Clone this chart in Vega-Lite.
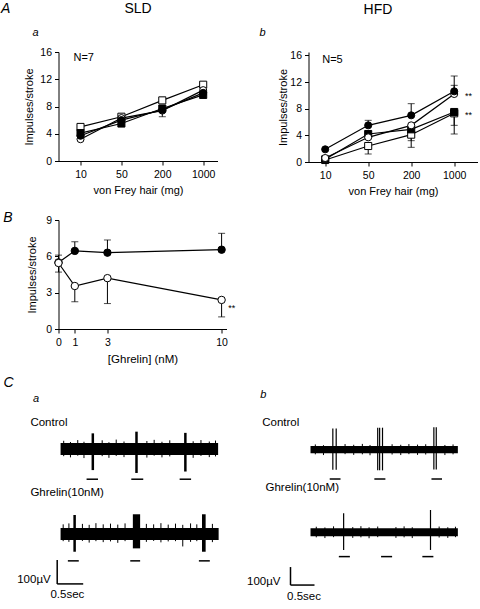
{
  "$schema": "https://vega.github.io/schema/vega-lite/v6.json",
  "padding": {"left": 0.5, "top": 2, "right": 0, "bottom": 0},
  "background": "white",
  "config": {
    "font": "Liberation Sans",
    "view": {"stroke": null},
    "axis": {"domainColor": "black", "tickColor": "black", "labelColor": "black", "titleColor": "black", "grid": false, "labelFont": "Liberation Sans", "titleFont": "Liberation Sans", "labelFontSize": 10.5, "titleFontSize": 11, "titleFontWeight": "normal", "tickSize": 4, "labelPadding": 3, "domainWidth": 1, "tickWidth": 1, "labelOverlap": false, "labelFlush": false},
    "text": {"font": "Liberation Sans", "fill": "black"}
  },
  "datasets": {
    "A": [
      {"diet": "SLD", "series": "open square", "mg": 10, "v": 5.0},
      {"diet": "SLD", "series": "open square", "mg": 50, "v": 6.5},
      {"diet": "SLD", "series": "open square", "mg": 200, "v": 8.9},
      {"diet": "SLD", "series": "open square", "mg": 1000, "v": 11.2},
      {"diet": "SLD", "series": "open circle", "mg": 10, "v": 3.2},
      {"diet": "SLD", "series": "open circle", "mg": 50, "v": 6.3},
      {"diet": "SLD", "series": "open circle", "mg": 200, "v": 7.4},
      {"diet": "SLD", "series": "open circle", "mg": 1000, "v": 10.4},
      {"diet": "SLD", "series": "closed circle", "mg": 10, "v": 3.7},
      {"diet": "SLD", "series": "closed circle", "mg": 50, "v": 6.0},
      {"diet": "SLD", "series": "closed circle", "mg": 200, "v": 7.5, "e": 6.5},
      {"diet": "SLD", "series": "closed circle", "mg": 1000, "v": 10.0},
      {"diet": "SLD", "series": "closed square", "mg": 10, "v": 4.1},
      {"diet": "SLD", "series": "closed square", "mg": 50, "v": 5.5},
      {"diet": "SLD", "series": "closed square", "mg": 200, "v": 7.7},
      {"diet": "SLD", "series": "closed square", "mg": 1000, "v": 9.7},
      {"diet": "HFD", "series": "open square", "mg": 10, "v": 0.3},
      {"diet": "HFD", "series": "open square", "mg": 50, "v": 2.4, "e": 1.2},
      {"diet": "HFD", "series": "open square", "mg": 200, "v": 4.1, "e": 2.2},
      {"diet": "HFD", "series": "open square", "mg": 1000, "v": 7.3, "e": 4.2},
      {"diet": "HFD", "series": "closed square", "mg": 10, "v": 0.4},
      {"diet": "HFD", "series": "closed square", "mg": 50, "v": 4.2},
      {"diet": "HFD", "series": "closed square", "mg": 200, "v": 4.9, "e": 3.2},
      {"diet": "HFD", "series": "closed square", "mg": 1000, "v": 7.5, "e": 5.5},
      {"diet": "HFD", "series": "open circle", "mg": 10, "v": 0.6},
      {"diet": "HFD", "series": "open circle", "mg": 50, "v": 3.7},
      {"diet": "HFD", "series": "open circle", "mg": 200, "v": 5.5},
      {"diet": "HFD", "series": "open circle", "mg": 1000, "v": 10.2, "e": 11.5},
      {"diet": "HFD", "series": "closed circle", "mg": 10, "v": 1.9},
      {"diet": "HFD", "series": "closed circle", "mg": 50, "v": 5.5, "e": 6.25},
      {"diet": "HFD", "series": "closed circle", "mg": 200, "v": 7.0, "e": 8.75},
      {"diet": "HFD", "series": "closed circle", "mg": 1000, "v": 10.6, "e": 12.9}
    ],
    "B": [
      {"series": "closed circle", "nM": 0, "v": 5.5, "e": 6.1},
      {"series": "closed circle", "nM": 1, "v": 6.45, "e": 7.2},
      {"series": "closed circle", "nM": 3, "v": 6.3, "e": 7.35},
      {"series": "closed circle", "nM": 10, "v": 6.55, "e": 7.9},
      {"series": "open circle", "nM": 0, "v": 5.45, "e": 4.7},
      {"series": "open circle", "nM": 1, "v": 3.55, "e": 2.25},
      {"series": "open circle", "nM": 3, "v": 4.2, "e": 2.1},
      {"series": "open circle", "nM": 10, "v": 2.4, "e": 1.0}
    ],
    "C": [
      {"panel": "a", "cond": "Control", "kind": "band", "t0": 0, "t1": 3.03, "lo": -25, "hi": 25},
      {"panel": "a", "cond": "Control", "kind": "spike", "t0": 0.62, "lo": -88, "hi": 65},
      {"panel": "a", "cond": "Control", "kind": "spike", "t0": 1.46, "lo": -100, "hi": 72},
      {"panel": "a", "cond": "Control", "kind": "spike", "t0": 2.40, "lo": -94, "hi": 67},
      {"panel": "a", "cond": "Control", "kind": "stim", "t0": 0.50, "t1": 0.72, "lo": -126},
      {"panel": "a", "cond": "Control", "kind": "stim", "t0": 1.36, "t1": 1.59, "lo": -126},
      {"panel": "a", "cond": "Control", "kind": "stim", "t0": 2.29, "t1": 2.51, "lo": -126},
      {"panel": "a", "cond": "Control", "kind": "noise", "t0": 0.06, "lo": -30, "hi": 34},
      {"panel": "a", "cond": "Control", "kind": "noise", "t0": 0.19, "lo": -35, "hi": 29},
      {"panel": "a", "cond": "Control", "kind": "noise", "t0": 0.33, "lo": -28, "hi": 37},
      {"panel": "a", "cond": "Control", "kind": "noise", "t0": 0.45, "lo": -38, "hi": 30},
      {"panel": "a", "cond": "Control", "kind": "noise", "t0": 0.80, "lo": -30, "hi": 36},
      {"panel": "a", "cond": "Control", "kind": "noise", "t0": 0.93, "lo": -37, "hi": 28},
      {"panel": "a", "cond": "Control", "kind": "noise", "t0": 1.07, "lo": -29, "hi": 39},
      {"panel": "a", "cond": "Control", "kind": "noise", "t0": 1.22, "lo": -34, "hi": 31},
      {"panel": "a", "cond": "Control", "kind": "noise", "t0": 1.66, "lo": -36, "hi": 33},
      {"panel": "a", "cond": "Control", "kind": "noise", "t0": 1.80, "lo": -28, "hi": 38},
      {"panel": "a", "cond": "Control", "kind": "noise", "t0": 1.95, "lo": -35, "hi": 30},
      {"panel": "a", "cond": "Control", "kind": "noise", "t0": 2.10, "lo": -31, "hi": 36},
      {"panel": "a", "cond": "Control", "kind": "noise", "t0": 2.55, "lo": -37, "hi": 32},
      {"panel": "a", "cond": "Control", "kind": "noise", "t0": 2.70, "lo": -29, "hi": 37},
      {"panel": "a", "cond": "Control", "kind": "noise", "t0": 2.86, "lo": -34, "hi": 31},
      {"panel": "a", "cond": "Control", "kind": "noise", "t0": 2.98, "lo": -31, "hi": 35},
      {"panel": "a", "cond": "Ghrelin", "kind": "band", "t0": 0, "t1": 3.04, "lo": -25, "hi": 25},
      {"panel": "a", "cond": "Ghrelin", "kind": "spike", "t0": 0.27, "lo": -74, "hi": 79},
      {"panel": "a", "cond": "Ghrelin", "kind": "burst", "t0": 1.39, "t1": 1.53, "lo": -60, "hi": 82},
      {"panel": "a", "cond": "Ghrelin", "kind": "burst", "t0": 2.72, "t1": 2.79, "lo": -74, "hi": 82},
      {"panel": "a", "cond": "Ghrelin", "kind": "stim", "t0": 0.14, "t1": 0.35, "lo": -112},
      {"panel": "a", "cond": "Ghrelin", "kind": "stim", "t0": 1.34, "t1": 1.53, "lo": -112},
      {"panel": "a", "cond": "Ghrelin", "kind": "stim", "t0": 2.66, "t1": 2.87, "lo": -112},
      {"panel": "a", "cond": "Ghrelin", "kind": "noise", "t0": 0.05, "lo": -30, "hi": 40},
      {"panel": "a", "cond": "Ghrelin", "kind": "noise", "t0": 0.16, "lo": -33, "hi": 44},
      {"panel": "a", "cond": "Ghrelin", "kind": "noise", "t0": 0.42, "lo": -29, "hi": 42},
      {"panel": "a", "cond": "Ghrelin", "kind": "noise", "t0": 0.55, "lo": -36, "hi": 38},
      {"panel": "a", "cond": "Ghrelin", "kind": "noise", "t0": 0.68, "lo": -30, "hi": 45},
      {"panel": "a", "cond": "Ghrelin", "kind": "noise", "t0": 0.82, "lo": -34, "hi": 40},
      {"panel": "a", "cond": "Ghrelin", "kind": "noise", "t0": 0.96, "lo": -31, "hi": 43},
      {"panel": "a", "cond": "Ghrelin", "kind": "noise", "t0": 1.10, "lo": -37, "hi": 39},
      {"panel": "a", "cond": "Ghrelin", "kind": "noise", "t0": 1.24, "lo": -30, "hi": 44},
      {"panel": "a", "cond": "Ghrelin", "kind": "noise", "t0": 1.65, "lo": -33, "hi": 42},
      {"panel": "a", "cond": "Ghrelin", "kind": "noise", "t0": 1.79, "lo": -29, "hi": 40},
      {"panel": "a", "cond": "Ghrelin", "kind": "noise", "t0": 1.93, "lo": -35, "hi": 45},
      {"panel": "a", "cond": "Ghrelin", "kind": "noise", "t0": 2.07, "lo": -31, "hi": 39},
      {"panel": "a", "cond": "Ghrelin", "kind": "noise", "t0": 2.21, "lo": -30, "hi": 43},
      {"panel": "a", "cond": "Ghrelin", "kind": "noise", "t0": 2.35, "lo": -52, "hi": 38},
      {"panel": "a", "cond": "Ghrelin", "kind": "noise", "t0": 2.50, "lo": -33, "hi": 44},
      {"panel": "a", "cond": "Ghrelin", "kind": "noise", "t0": 2.62, "lo": -30, "hi": 40},
      {"panel": "a", "cond": "Ghrelin", "kind": "noise", "t0": 2.92, "lo": -34, "hi": 42},
      {"panel": "b", "cond": "Control", "kind": "band", "t0": 0, "t1": 3.07, "lo": -20, "hi": 20},
      {"panel": "b", "cond": "Control", "kind": "spike", "t0": 0.465, "lo": -111, "hi": 117},
      {"panel": "b", "cond": "Control", "kind": "spike", "t0": 0.535, "lo": -111, "hi": 117},
      {"panel": "b", "cond": "Control", "kind": "spike", "t0": 1.40, "lo": -115, "hi": 122},
      {"panel": "b", "cond": "Control", "kind": "spike", "t0": 1.44, "lo": -115, "hi": 122},
      {"panel": "b", "cond": "Control", "kind": "spike", "t0": 1.50, "lo": -115, "hi": 122},
      {"panel": "b", "cond": "Control", "kind": "spike", "t0": 2.57, "lo": -110, "hi": 125},
      {"panel": "b", "cond": "Control", "kind": "spike", "t0": 2.62, "lo": -110, "hi": 125},
      {"panel": "b", "cond": "Control", "kind": "stim", "t0": 0.40, "t1": 0.625, "lo": -163},
      {"panel": "b", "cond": "Control", "kind": "stim", "t0": 1.33, "t1": 1.56, "lo": -163},
      {"panel": "b", "cond": "Control", "kind": "stim", "t0": 2.52, "t1": 2.74, "lo": -163},
      {"panel": "b", "cond": "Control", "kind": "noise", "t0": 0.10, "lo": -26, "hi": 29},
      {"panel": "b", "cond": "Control", "kind": "noise", "t0": 0.27, "lo": -30, "hi": 25},
      {"panel": "b", "cond": "Control", "kind": "noise", "t0": 0.72, "lo": -25, "hi": 31},
      {"panel": "b", "cond": "Control", "kind": "noise", "t0": 0.90, "lo": -29, "hi": 27},
      {"panel": "b", "cond": "Control", "kind": "noise", "t0": 1.08, "lo": -26, "hi": 32},
      {"panel": "b", "cond": "Control", "kind": "noise", "t0": 1.24, "lo": -31, "hi": 26},
      {"panel": "b", "cond": "Control", "kind": "noise", "t0": 1.70, "lo": -27, "hi": 30},
      {"panel": "b", "cond": "Control", "kind": "noise", "t0": 1.88, "lo": -30, "hi": 27},
      {"panel": "b", "cond": "Control", "kind": "noise", "t0": 2.05, "lo": -25, "hi": 31},
      {"panel": "b", "cond": "Control", "kind": "noise", "t0": 2.23, "lo": -29, "hi": 28},
      {"panel": "b", "cond": "Control", "kind": "noise", "t0": 2.40, "lo": -27, "hi": 30},
      {"panel": "b", "cond": "Control", "kind": "noise", "t0": 2.80, "lo": -30, "hi": 26},
      {"panel": "b", "cond": "Control", "kind": "noise", "t0": 2.97, "lo": -26, "hi": 29},
      {"panel": "b", "cond": "Ghrelin", "kind": "band", "t0": 0, "t1": 3.07, "lo": -22, "hi": 22},
      {"panel": "b", "cond": "Ghrelin", "kind": "spike", "t0": 0.69, "lo": -98, "hi": 106},
      {"panel": "b", "cond": "Ghrelin", "kind": "spike", "t0": 2.50, "lo": -98, "hi": 124},
      {"panel": "b", "cond": "Ghrelin", "kind": "stim", "t0": 0.59, "t1": 0.82, "lo": -135},
      {"panel": "b", "cond": "Ghrelin", "kind": "stim", "t0": 1.47, "t1": 1.70, "lo": -135},
      {"panel": "b", "cond": "Ghrelin", "kind": "stim", "t0": 2.33, "t1": 2.56, "lo": -135},
      {"panel": "b", "cond": "Ghrelin", "kind": "noise", "t0": 0.12, "lo": -28, "hi": 31},
      {"panel": "b", "cond": "Ghrelin", "kind": "noise", "t0": 0.30, "lo": -32, "hi": 27},
      {"panel": "b", "cond": "Ghrelin", "kind": "noise", "t0": 0.48, "lo": -27, "hi": 33},
      {"panel": "b", "cond": "Ghrelin", "kind": "noise", "t0": 0.88, "lo": -31, "hi": 29},
      {"panel": "b", "cond": "Ghrelin", "kind": "noise", "t0": 1.05, "lo": -28, "hi": 34},
      {"panel": "b", "cond": "Ghrelin", "kind": "noise", "t0": 1.22, "lo": -33, "hi": 28},
      {"panel": "b", "cond": "Ghrelin", "kind": "noise", "t0": 1.40, "lo": -27, "hi": 32},
      {"panel": "b", "cond": "Ghrelin", "kind": "noise", "t0": 1.78, "lo": -31, "hi": 29},
      {"panel": "b", "cond": "Ghrelin", "kind": "noise", "t0": 1.95, "lo": -28, "hi": 33},
      {"panel": "b", "cond": "Ghrelin", "kind": "noise", "t0": 2.12, "lo": -32, "hi": 28},
      {"panel": "b", "cond": "Ghrelin", "kind": "noise", "t0": 2.68, "lo": -29, "hi": 32},
      {"panel": "b", "cond": "Ghrelin", "kind": "noise", "t0": 2.86, "lo": -31, "hi": 28},
      {"panel": "b", "cond": "Ghrelin", "kind": "noise", "t0": 3.02, "lo": -27, "hi": 31}
    ]
  },
  "columns": 2,
  "bounds": "flush",
  "align": "each",
  "spacing": {"row": 58, "column": 82},
  "concat": [
    {
      "width": 159, "height": 109,
      "layer": [
        {
          "data": {"name": "A"},
          "transform": [{"filter": "datum.diet === 'SLD'"}],
          "encoding": {
            "x": {"field": "mg", "type": "ordinal", "scale": {"type": "point", "domain": [10, 50, 200, 1000], "padding": 0.444, "align": 0.606}, "axis": {"title": "von Frey hair (mg)", "labelAngle": 0, "labelPadding": 4, "titlePadding": 5}},
            "y": {"field": "v", "type": "quantitative", "title": "Impulses/stroke", "scale": {"domain": [0, 16], "nice": false}, "axis": {"values": [0, 4, 8, 12, 16], "titlePadding": 5}}
          },
          "layer": [
            {"mark": {"type": "line", "color": "black", "strokeWidth": 1.2}, "encoding": {"detail": {"field": "series"}}},
            {"transform": [{"filter": "isValid(datum.e)"}], "mark": {"type": "rule", "color": "black", "strokeWidth": 1}, "encoding": {"y2": {"field": "e"}}},
            {"transform": [{"filter": "isValid(datum.e)"}], "mark": {"type": "tick", "color": "black", "size": 7, "thickness": 1}, "encoding": {"y": {"field": "e", "type": "quantitative", "title": "Impulses/stroke"}}},
            {"mark": {"type": "point", "filled": true, "stroke": "black", "strokeWidth": 1, "size": 50, "opacity": 1},
             "encoding": {
               "shape": {"field": "series", "scale": {"domain": ["closed circle", "open circle", "closed square", "open square"], "range": ["circle", "circle", "square", "square"]}, "legend": null},
               "fill": {"field": "series", "scale": {"domain": ["closed circle", "open circle", "closed square", "open square"], "range": ["black", "white", "black", "white"]}, "legend": null}
             }}
          ]
        },
        {
          "data": {"values": [{}]},
          "layer": [
            {"mark": {"type": "text", "text": "A", "align": "left", "baseline": "middle", "fontSize": 14, "fontStyle": "italic"},
             "encoding": {"x": {"datum": -0.3616, "type": "quantitative", "scale": {"domain": [0, 1]}, "axis": null}, "y": {"datum": 22.31, "type": "quantitative", "scale": {"domain": [0, 16]}, "axis": null}}},
            {"mark": {"type": "text", "text": "SLD", "align": "center", "baseline": "middle", "fontSize": 14},
             "encoding": {"x": {"datum": 0.5, "type": "quantitative", "scale": {"domain": [0, 1]}, "axis": null}, "y": {"datum": 22.24, "type": "quantitative", "scale": {"domain": [0, 16]}, "axis": null}}},
            {"mark": {"type": "text", "text": "a", "align": "center", "baseline": "middle", "fontSize": 11, "fontStyle": "italic"},
             "encoding": {"x": {"datum": -0.145, "type": "quantitative", "scale": {"domain": [0, 1]}, "axis": null}, "y": {"datum": 18.79, "type": "quantitative", "scale": {"domain": [0, 16]}, "axis": null}}},
            {"mark": {"type": "text", "text": "N=7", "align": "left", "baseline": "middle", "fontSize": 11},
             "encoding": {"x": {"datum": 0.094, "type": "quantitative", "scale": {"domain": [0, 1]}, "axis": null}, "y": {"datum": 15.05, "type": "quantitative", "scale": {"domain": [0, 16]}, "axis": null}}}
          ]
        }
      ],
      "resolve": {"scale": {"x": "independent", "y": "independent"}, "axis": {"x": "independent", "y": "independent"}}
    },
    {
      "width": 169, "height": 110,
      "layer": [
        {
          "data": {"name": "A"},
          "transform": [{"filter": "datum.diet === 'HFD'"}],
          "encoding": {
            "x": {"field": "mg", "type": "ordinal", "scale": {"type": "point", "domain": [10, 50, 200, 1000], "padding": 0.465, "align": 0.4175}, "axis": {"title": "von Frey hair (mg)", "labelAngle": 0, "labelPadding": 4, "titlePadding": 5}},
            "y": {"field": "v", "type": "quantitative", "title": "Impulses/stroke", "scale": {"domain": [0, 16.5], "nice": false}, "axis": {"values": [0, 4, 8, 12, 16], "titlePadding": 1}}
          },
          "layer": [
            {"mark": {"type": "line", "color": "black", "strokeWidth": 1.2}, "encoding": {"detail": {"field": "series"}}},
            {"transform": [{"filter": "isValid(datum.e)"}], "mark": {"type": "rule", "color": "black", "strokeWidth": 1}, "encoding": {"y2": {"field": "e"}}},
            {"transform": [{"filter": "isValid(datum.e)"}], "mark": {"type": "tick", "color": "black", "size": 7, "thickness": 1}, "encoding": {"y": {"field": "e", "type": "quantitative", "title": "Impulses/stroke"}}},
            {"mark": {"type": "point", "filled": true, "stroke": "black", "strokeWidth": 1, "size": 50, "opacity": 1},
             "encoding": {
               "shape": {"field": "series", "scale": {"domain": ["closed circle", "open circle", "closed square", "open square"], "range": ["circle", "circle", "square", "square"]}, "legend": null},
               "fill": {"field": "series", "scale": {"domain": ["closed circle", "open circle", "closed square", "open square"], "range": ["black", "white", "black", "white"]}, "legend": null}
             }}
          ]
        },
        {
          "data": {"values": [{}]},
          "layer": [
            {"mark": {"type": "text", "text": "HFD", "align": "center", "baseline": "middle", "fontSize": 14},
             "encoding": {"x": {"datum": 0.411, "type": "quantitative", "scale": {"domain": [0, 1]}, "axis": null}, "y": {"datum": 22.87, "type": "quantitative", "scale": {"domain": [0, 16.5]}, "axis": null}}},
            {"mark": {"type": "text", "text": "b", "align": "center", "baseline": "middle", "fontSize": 11, "fontStyle": "italic"},
             "encoding": {"x": {"datum": -0.272, "type": "quantitative", "scale": {"domain": [0, 1]}, "axis": null}, "y": {"datum": 19.35, "type": "quantitative", "scale": {"domain": [0, 16.5]}, "axis": null}}},
            {"mark": {"type": "text", "text": "N=5", "align": "left", "baseline": "middle", "fontSize": 11},
             "encoding": {"x": {"datum": 0.081, "type": "quantitative", "scale": {"domain": [0, 1]}, "axis": null}, "y": {"datum": 15.37, "type": "quantitative", "scale": {"domain": [0, 16.5]}, "axis": null}}},
            {"mark": {"type": "text", "text": "**", "align": "center", "baseline": "middle", "fontSize": 9},
             "encoding": {"x": {"datum": 0.947, "type": "quantitative", "scale": {"domain": [0, 1]}, "axis": null}, "y": {"datum": 9.85, "type": "quantitative", "scale": {"domain": [0, 16.5]}, "axis": null}}},
            {"mark": {"type": "text", "text": "**", "align": "center", "baseline": "middle", "fontSize": 9},
             "encoding": {"x": {"datum": 0.947, "type": "quantitative", "scale": {"domain": [0, 1]}, "axis": null}, "y": {"datum": 7.0, "type": "quantitative", "scale": {"domain": [0, 16.5]}, "axis": null}}}
          ]
        }
      ],
      "resolve": {"scale": {"x": "independent", "y": "independent"}, "axis": {"x": "independent", "y": "independent"}}
    },
    {
      "width": 168, "height": 109,
      "layer": [
        {
          "data": {"name": "B"},
          "encoding": {
            "x": {"field": "nM", "type": "quantitative", "title": "[Ghrelin] (nM)", "scale": {"domain": [0, 10.3], "nice": false}, "axis": {"values": [0, 1, 3, 10], "labelPadding": 4, "titlePadding": 6, "titleFontSize": 11.5}},
            "y": {"field": "v", "type": "quantitative", "title": "Impulses/stroke", "scale": {"domain": [0, 9], "nice": false}, "axis": {"values": [0, 3, 6, 9], "titlePadding": 8}}
          },
          "layer": [
            {"mark": {"type": "line", "color": "black", "strokeWidth": 1.2}, "encoding": {"detail": {"field": "series"}}},
            {"mark": {"type": "rule", "color": "black", "strokeWidth": 1}, "encoding": {"y2": {"field": "e"}}},
            {"mark": {"type": "tick", "color": "black", "size": 7, "thickness": 1, "orient": "horizontal"}, "encoding": {"y": {"field": "e", "type": "quantitative", "title": "Impulses/stroke", "axis": {"values": [0, 3, 6, 9], "titlePadding": 8}}}},
            {"mark": {"type": "point", "filled": true, "stroke": "black", "strokeWidth": 1, "size": 55, "opacity": 1, "shape": "circle"},
             "encoding": {"fill": {"field": "series", "scale": {"domain": ["closed circle", "open circle"], "range": ["black", "white"]}, "legend": null}}}
          ]
        },
        {
          "data": {"values": [{}]},
          "layer": [
            {"mark": {"type": "text", "text": "B", "align": "left", "baseline": "middle", "fontSize": 14, "fontStyle": "italic"},
             "encoding": {"x": {"datum": -3.39, "type": "quantitative", "scale": {"domain": [0, 10.3], "nice": false}, "axis": null}, "y": {"datum": 9.17, "type": "quantitative", "scale": {"domain": [0, 9], "nice": false}, "axis": null}}},
            {"mark": {"type": "text", "text": "**", "align": "center", "baseline": "middle", "fontSize": 9},
             "encoding": {"x": {"datum": 10.62, "type": "quantitative", "scale": {"domain": [0, 10.3], "nice": false}, "axis": null}, "y": {"datum": 1.73, "type": "quantitative", "scale": {"domain": [0, 9], "nice": false}, "axis": null}}}
          ]
        }
      ],
      "resolve": {"scale": {"x": "independent", "y": "independent"}, "axis": {"x": "independent", "y": "independent"}}
    },
    {
      "width": 1, "height": 1,
      "data": {"values": [{}]},
      "mark": {"type": "point", "opacity": 0}
    },
    {
      "width": 163, "height": 213,
      "layer": [
        {
          "data": {"name": "C"},
          "transform": [{"filter": "datum.panel === 'a' && datum.cond === 'Control'"}],
          "layer": [
            {"transform": [{"filter": "datum.kind === 'band'"}],
             "mark": {"type": "rect", "color": "black"},
             "encoding": {"x": {"field": "t0", "type": "quantitative", "scale": {"domain": [-0.04, 3.095], "nice": false, "zero": false}, "axis": null}, "x2": {"field": "t1"},
                          "y": {"field": "lo", "type": "quantitative", "scale": {"domain": [-629, 258], "nice": false, "zero": false}, "axis": null}, "y2": {"field": "hi"}}},
            {"transform": [{"filter": "datum.kind === 'noise'"}],
             "mark": {"type": "rule", "color": "black", "strokeWidth": 1},
             "encoding": {"x": {"field": "t0", "type": "quantitative", "axis": null}, "y": {"field": "lo", "type": "quantitative", "axis": null}, "y2": {"field": "hi"}}},
            {"transform": [{"filter": "datum.kind === 'spike'"}],
             "mark": {"type": "rule", "color": "black", "strokeWidth": 2.5},
             "encoding": {"x": {"field": "t0", "type": "quantitative", "axis": null}, "y": {"field": "lo", "type": "quantitative", "axis": null}, "y2": {"field": "hi"}}},
            {"transform": [{"filter": "datum.kind === 'stim'"}],
             "mark": {"type": "rule", "color": "black", "strokeWidth": 1.5},
             "encoding": {"x": {"field": "t0", "type": "quantitative", "axis": null}, "x2": {"field": "t1"}, "y": {"field": "lo", "type": "quantitative", "axis": null}}},
            {"data": {"values": [{}]}, "mark": {"type": "text", "text": "C", "align": "left", "baseline": "middle", "fontSize": 14, "fontStyle": "italic"},
             "encoding": {"x": {"datum": -1.098, "type": "quantitative", "axis": null}, "y": {"datum": 275, "type": "quantitative", "axis": null}}},
            {"data": {"values": [{}]}, "mark": {"type": "text", "text": "a", "align": "center", "baseline": "middle", "fontSize": 11, "fontStyle": "italic"},
             "encoding": {"x": {"datum": -0.473, "type": "quantitative", "axis": null}, "y": {"datum": 210, "type": "quantitative", "axis": null}}},
            {"data": {"values": [{}]}, "mark": {"type": "text", "text": "Control", "align": "left", "baseline": "middle", "fontSize": 11.5},
             "encoding": {"x": {"datum": -0.58, "type": "quantitative", "axis": null}, "y": {"datum": 110, "type": "quantitative", "axis": null}}}
          ]
        },
        {
          "data": {"name": "C"},
          "transform": [{"filter": "datum.panel === 'a' && datum.cond === 'Ghrelin'"}],
          "layer": [
            {"transform": [{"filter": "datum.kind === 'band'"}],
             "mark": {"type": "rect", "color": "black"},
             "encoding": {"x": {"field": "t0", "type": "quantitative", "axis": null}, "x2": {"field": "t1"},
                          "y": {"field": "lo", "type": "quantitative", "scale": {"domain": [-275, 612], "nice": false, "zero": false}, "axis": null}, "y2": {"field": "hi"}}},
            {"transform": [{"filter": "datum.kind === 'noise'"}],
             "mark": {"type": "rule", "color": "black", "strokeWidth": 1},
             "encoding": {"x": {"field": "t0", "type": "quantitative", "axis": null}, "y": {"field": "lo", "type": "quantitative", "axis": null}, "y2": {"field": "hi"}}},
            {"transform": [{"filter": "datum.kind === 'spike'"}],
             "mark": {"type": "rule", "color": "black", "strokeWidth": 2.5},
             "encoding": {"x": {"field": "t0", "type": "quantitative", "axis": null}, "y": {"field": "lo", "type": "quantitative", "axis": null}, "y2": {"field": "hi"}}},
            {"transform": [{"filter": "datum.kind === 'burst'"}],
             "mark": {"type": "rect", "color": "black"},
             "encoding": {"x": {"field": "t0", "type": "quantitative", "axis": null}, "x2": {"field": "t1"}, "y": {"field": "lo", "type": "quantitative", "axis": null}, "y2": {"field": "hi"}}},
            {"transform": [{"filter": "datum.kind === 'stim'"}],
             "mark": {"type": "rule", "color": "black", "strokeWidth": 1.5},
             "encoding": {"x": {"field": "t0", "type": "quantitative", "axis": null}, "x2": {"field": "t1"}, "y": {"field": "lo", "type": "quantitative", "axis": null}}},
            {"data": {"values": [{}]}, "mark": {"type": "rule", "color": "black", "strokeWidth": 1.5},
             "encoding": {"x": {"datum": -0.065, "type": "quantitative", "axis": null}, "y": {"datum": -208, "type": "quantitative", "axis": null}, "y2": {"datum": -108}}},
            {"data": {"values": [{}]}, "mark": {"type": "rule", "color": "black", "strokeWidth": 1.5},
             "encoding": {"x": {"datum": -0.065, "type": "quantitative", "axis": null}, "x2": {"datum": 0.435}, "y": {"datum": -208, "type": "quantitative", "axis": null}}},
            {"data": {"values": [{}]}, "mark": {"type": "text", "text": "Ghrelin(10nM)", "align": "left", "baseline": "middle", "fontSize": 11.5},
             "encoding": {"x": {"datum": -0.58, "type": "quantitative", "axis": null}, "y": {"datum": 171, "type": "quantitative", "axis": null}}},
            {"data": {"values": [{}]}, "mark": {"type": "text", "text": "100µV", "align": "right", "baseline": "middle", "fontSize": 11.5},
             "encoding": {"x": {"datum": -0.19, "type": "quantitative", "axis": null}, "y": {"datum": -192, "type": "quantitative", "axis": null}}},
            {"data": {"values": [{}]}, "mark": {"type": "text", "text": "0.5sec", "align": "center", "baseline": "middle", "fontSize": 11.5},
             "encoding": {"x": {"datum": 0.13, "type": "quantitative", "axis": null}, "y": {"datum": -254, "type": "quantitative", "axis": null}}}
          ]
        }
      ],
      "resolve": {"scale": {"y": "independent"}, "axis": {"y": "independent"}}
    },
    {
      "width": 152, "height": 213,
      "layer": [
        {
          "data": {"name": "C"},
          "transform": [{"filter": "datum.panel === 'b' && datum.cond === 'Control'"}],
          "layer": [
            {"transform": [{"filter": "datum.kind === 'band'"}],
             "mark": {"type": "rect", "color": "black"},
             "encoding": {"x": {"field": "t0", "type": "quantitative", "scale": {"domain": [-0.042, 3.125], "nice": false, "zero": false}, "axis": null}, "x2": {"field": "t1"},
                          "y": {"field": "lo", "type": "quantitative", "scale": {"domain": [-835, 348], "nice": false, "zero": false}, "axis": null}, "y2": {"field": "hi"}}},
            {"transform": [{"filter": "datum.kind === 'noise'"}],
             "mark": {"type": "rule", "color": "black", "strokeWidth": 1},
             "encoding": {"x": {"field": "t0", "type": "quantitative", "axis": null}, "y": {"field": "lo", "type": "quantitative", "axis": null}, "y2": {"field": "hi"}}},
            {"transform": [{"filter": "datum.kind === 'spike'"}],
             "mark": {"type": "rule", "color": "black", "strokeWidth": 1.2},
             "encoding": {"x": {"field": "t0", "type": "quantitative", "axis": null}, "y": {"field": "lo", "type": "quantitative", "axis": null}, "y2": {"field": "hi"}}},
            {"transform": [{"filter": "datum.kind === 'stim'"}],
             "mark": {"type": "rule", "color": "black", "strokeWidth": 1.5},
             "encoding": {"x": {"field": "t0", "type": "quantitative", "axis": null}, "x2": {"field": "t1"}, "y": {"field": "lo", "type": "quantitative", "axis": null}}},
            {"data": {"values": [{}]}, "mark": {"type": "text", "text": "b", "align": "center", "baseline": "middle", "fontSize": 11, "fontStyle": "italic"},
             "encoding": {"x": {"datum": -0.985, "type": "quantitative", "axis": null}, "y": {"datum": 304, "type": "quantitative", "axis": null}}},
            {"data": {"values": [{}]}, "mark": {"type": "text", "text": "Control", "align": "left", "baseline": "middle", "fontSize": 11.5},
             "encoding": {"x": {"datum": -1.006, "type": "quantitative", "axis": null}, "y": {"datum": 147, "type": "quantitative", "axis": null}}}
          ]
        },
        {
          "data": {"name": "C"},
          "transform": [{"filter": "datum.panel === 'b' && datum.cond === 'Ghrelin'"}],
          "layer": [
            {"transform": [{"filter": "datum.kind === 'band'"}],
             "mark": {"type": "rect", "color": "black"},
             "encoding": {"x": {"field": "t0", "type": "quantitative", "axis": null}, "x2": {"field": "t1"},
                          "y": {"field": "lo", "type": "quantitative", "scale": {"domain": [-376, 807], "nice": false, "zero": false}, "axis": null}, "y2": {"field": "hi"}}},
            {"transform": [{"filter": "datum.kind === 'noise'"}],
             "mark": {"type": "rule", "color": "black", "strokeWidth": 1},
             "encoding": {"x": {"field": "t0", "type": "quantitative", "axis": null}, "y": {"field": "lo", "type": "quantitative", "axis": null}, "y2": {"field": "hi"}}},
            {"transform": [{"filter": "datum.kind === 'spike'"}],
             "mark": {"type": "rule", "color": "black", "strokeWidth": 1.2},
             "encoding": {"x": {"field": "t0", "type": "quantitative", "axis": null}, "y": {"field": "lo", "type": "quantitative", "axis": null}, "y2": {"field": "hi"}}},
            {"transform": [{"filter": "datum.kind === 'stim'"}],
             "mark": {"type": "rule", "color": "black", "strokeWidth": 1.5},
             "encoding": {"x": {"field": "t0", "type": "quantitative", "axis": null}, "x2": {"field": "t1"}, "y": {"field": "lo", "type": "quantitative", "axis": null}}},
            {"data": {"values": [{}]}, "mark": {"type": "rule", "color": "black", "strokeWidth": 1.5},
             "encoding": {"x": {"datum": -0.417, "type": "quantitative", "axis": null}, "y": {"datum": -293, "type": "quantitative", "axis": null}, "y2": {"datum": -193}}},
            {"data": {"values": [{}]}, "mark": {"type": "rule", "color": "black", "strokeWidth": 1.5},
             "encoding": {"x": {"datum": -0.417, "type": "quantitative", "axis": null}, "x2": {"datum": 0.083}, "y": {"datum": -293, "type": "quantitative", "axis": null}}},
            {"data": {"values": [{}]}, "mark": {"type": "text", "text": "Ghrelin(10nM)", "align": "left", "baseline": "middle", "fontSize": 11.5},
             "encoding": {"x": {"datum": -0.9375, "type": "quantitative", "axis": null}, "y": {"datum": 246, "type": "quantitative", "axis": null}}},
            {"data": {"values": [{}]}, "mark": {"type": "text", "text": "100µV", "align": "right", "baseline": "middle", "fontSize": 11.5},
             "encoding": {"x": {"datum": -0.625, "type": "quantitative", "axis": null}, "y": {"datum": -274, "type": "quantitative", "axis": null}}},
            {"data": {"values": [{}]}, "mark": {"type": "text", "text": "0.5sec", "align": "center", "baseline": "middle", "fontSize": 11.5},
             "encoding": {"x": {"datum": -0.135, "type": "quantitative", "axis": null}, "y": {"datum": -358, "type": "quantitative", "axis": null}}}
          ]
        }
      ],
      "resolve": {"scale": {"y": "independent"}, "axis": {"y": "independent"}}
    }
  ]
}
